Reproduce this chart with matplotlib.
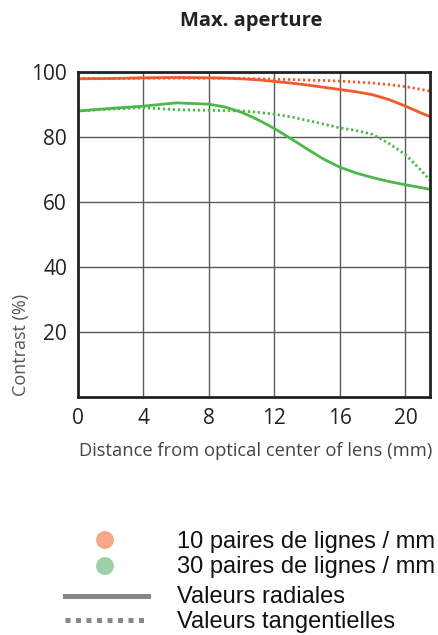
import matplotlib.pyplot as plt
from matplotlib.lines import Line2D

# distances from optical centre (mm)
dist = [0, 2, 4, 6, 8, 9, 10, 11, 12, 13, 14, 15, 16, 17, 18, 19, 20, 21, 21.5]

# 10 lp/mm
r10 = [97.9, 98.0, 98.2, 98.3, 98.2, 98.1, 97.9, 97.6, 97.1, 96.6, 96.0, 95.3, 94.6,
       93.9, 93.0, 91.5, 89.5, 87.3, 86.3]
t10 = [98.0, 98.0, 98.1, 98.1, 98.1, 98.1, 98.0, 97.9, 97.8, 97.7, 97.5, 97.4, 97.2,
       96.9, 96.6, 96.1, 95.5, 94.6, 94.1]

# 30 lp/mm
r30 = [88.0, 88.8, 89.5, 90.5, 90.1, 89.2, 87.6, 85.3, 82.6, 79.5, 76.3, 73.2, 70.7,
       68.9, 67.5, 66.3, 65.3, 64.4, 63.9]
t30 = [88.0, 88.6, 89.0, 88.4, 88.2, 88.1, 88.0, 87.6, 87.0, 86.2, 85.1, 84.0, 82.8,
       82.0, 80.8, 78.0, 74.6, 69.5, 66.7]

xticks = [0, 4, 8, 12, 16, 20]
yticks = [20, 40, 60, 80, 100]

legend_labels = ["10 paires de lignes / mm", "30 paires de lignes / mm",
                 "Valeurs radiales", "Valeurs tangentielles"]

RED = "#f15a2b"
GREEN = "#4cb84a"

fig = plt.figure(figsize=(4.39, 6.35), dpi=100)
W, H = 439, 635
ax = fig.add_axes([78 / W, 1 - 397 / H, (430 - 78) / W, (397 - 72) / H])

dots = (0, (0.8, 1.0))
ax.plot(dist, r10, color=RED, lw=2)
ax.plot(dist, t10, color=RED, lw=2, ls=dots)
ax.plot(dist, r30, color=GREEN, lw=2)
ax.plot(dist, t30, color=GREEN, lw=2, ls=dots)

ax.set_xlim(0, 21.5)
ax.set_ylim(0, 100)
ax.set_xticks(xticks)
ax.set_yticks(yticks)
ax.grid(True, color="#5a5a5a", lw=1)
ax.set_axisbelow(True)
ax.tick_params(length=0, labelsize=15, labelcolor="#222222", pad=8)
for lab in ax.get_xticklabels() + ax.get_yticklabels():
    lab.set_family("Open Sans")
for sp in ax.spines.values():
    sp.set_linewidth(2)
    sp.set_color("#222222")

ax.set_ylabel("Contrast (%)", fontsize=13, color="#555555", family="Open Sans")
ax.yaxis.set_label_coords(-0.135, 0.16)
fig.text(256 / W, 1 - 451 / H, "Distance from optical center of lens (mm)",
         ha="center", va="center", fontsize=13.2, color="#444444",
         family="Open Sans")
fig.text(251 / W, 1 - 21 / H, "Max. aperture", ha="center", va="center",
         fontsize=14.5, fontweight="bold", family="Open Sans", color="#222222")

# legend drawn in figure pixel space
lg = fig.add_axes([0, 0, 1, 1 - 510 / H])
lg.set_xlim(0, W)
lg.set_ylim(H, 510)
lg.axis("off")
lg.scatter([105], [540], s=165, color="#f5a788", edgecolors="none")
lg.scatter([105], [566], s=165, color="#9fcfa7", edgecolors="none")
lg.add_line(Line2D([65, 148], [596, 596], color="#888888", lw=3.6))
lg.add_line(Line2D([65, 148], [620, 620], color="#888888", lw=3.6, ls=(0, (1, 1.1))))
baselines = [548, 573, 603, 628]
for t, yb in zip(legend_labels, baselines):
    lg.text(177, yb, t, fontsize=17, family="Liberation Sans",
            va="baseline", ha="left", color="#111111")

fig.savefig("out.png", dpi=100)
